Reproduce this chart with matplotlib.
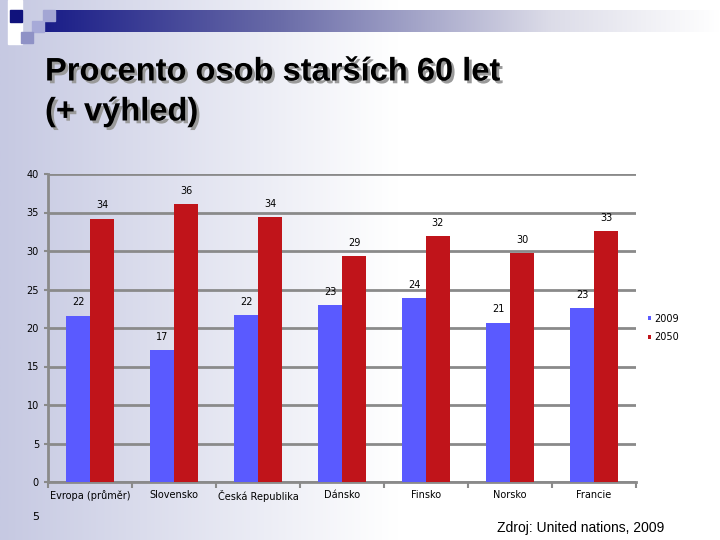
import numpy as np
import matplotlib
matplotlib.use('Agg')
import matplotlib.pyplot as plt
import matplotlib.patheffects as pe
from matplotlib.colors import LinearSegmentedColormap
from matplotlib.patches import Rectangle

# data
categories = ['Evropa (průměr)', 'Slovensko', 'Česká Republika', 'Dánsko',
              'Finsko', 'Norsko', 'Francie']
vals_2009 = [21.6, 17.1, 21.7, 23.0, 23.9, 20.7, 22.6]
vals_2050 = [34.2, 36.1, 34.4, 29.3, 31.9, 29.7, 32.6]
series_names = ['2009', '2050']
yticks = [0, 5, 10, 15, 20, 25, 30, 35, 40]

blue = '#5a5aff'
red = '#c0141a'

fig = plt.figure(figsize=(7.2, 5.4), dpi=100)

# slide background: lavender on the left fading into white
bg = fig.add_axes([0, 0, 1, 1])
bg_cmap = LinearSegmentedColormap.from_list('bg', [(0, '#c6c9e2'), (0.55, '#ffffff'), (1, '#ffffff')])
bg.imshow(np.linspace(0, 1, 256)[None, :], aspect='auto', cmap=bg_cmap,
          extent=[0, 720, 540, 0])
# header band
band_cmap = LinearSegmentedColormap.from_list('band', [(0, '#1a1d88'), (0.35, '#6a6ca8'),
                                                      (0.75, '#dcdce8'), (1, '#ffffff')])
bg.imshow(np.linspace(0, 1, 256)[None, :], aspect='auto', cmap=band_cmap,
          extent=[44, 720, 32, 10])
bg.add_patch(Rectangle((8, 0), 14, 44, color='#ffffff'))
bg.add_patch(Rectangle((10, 10), 12, 12, color='#10127c'))
bg.add_patch(Rectangle((43, 10), 12, 11, color='#a3a6d4'))
bg.add_patch(Rectangle((32, 21), 12, 11, color='#a7aad8'))
bg.add_patch(Rectangle((21, 32), 12, 11, color='#8f92c6'))
bg.set_xlim(0, 720)
bg.set_ylim(540, 0)
bg.axis('off')

# title with shadow
title_font = ['Liberation Sans Narrow', 'Liberation Sans', 'DejaVu Sans']
shadow = [pe.withSimplePatchShadow(offset=(2, -2), shadow_rgbFace='#9a9a9a', alpha=1)]
fig.text(45 / 720, 1 - 72 / 540, 'Procento osob starších 60 let', fontsize=23.5,
         fontweight='bold', family=title_font, va='center', path_effects=shadow)
fig.text(45 / 720, 1 - 112 / 540, '(+ výhled)', fontsize=23.5,
         fontweight='bold', family=title_font, va='center', path_effects=shadow)

ax = fig.add_axes([48 / 720, 1 - 482 / 540, 588 / 720, 308 / 540])
ax.patch.set_alpha(0)

x = np.arange(len(categories))
w = 0.275
b1 = ax.bar(x - w / 2 - 0.005, vals_2009, w, color=blue, label=series_names[0], zorder=3)
b2 = ax.bar(x + w / 2 + 0.005, vals_2050, w, color=red, label=series_names[1], zorder=3)
for bars in (b1, b2):
    ax.bar_label(bars, fmt='%.0f', padding=6, fontsize=7, zorder=4)

ax.set_xlim(-0.5, len(categories) - 0.5)
ax.set_ylim(0, 40)
ax.set_yticks(yticks)
ax.yaxis.grid(True, color='#8a8a8a', linewidth=2, zorder=0)
ax.tick_params(axis='y', labelsize=7, length=3, color='#8a8a8a', width=1.5)
ax.set_xticks(x)
ax.set_xticklabels(categories, fontsize=7)
ax.tick_params(axis='x', length=0, pad=6)
ax.set_xticks(np.arange(len(categories) + 1) - 0.5, minor=True)
ax.tick_params(axis='x', which='minor', length=4, color='#8a8a8a', width=1.5)
for s in ['top', 'right']:
    ax.spines[s].set_visible(False)
for s in ['left', 'bottom']:
    ax.spines[s].set_color('#8a8a8a')
    ax.spines[s].set_linewidth(2)

ax.legend(loc='center left', bbox_to_anchor=(1.0, 0.5), frameon=False, fontsize=7,
          handlelength=0.35, handleheight=0.35, handletextpad=0.3, labelspacing=0.9,
          borderaxespad=0.8)

fig.text(32 / 720, 1 - 517 / 540, '5', fontsize=8, va='center')
fig.text(497 / 720, 1 - 528 / 540, 'Zdroj: United nations, 2009', fontsize=10,
         va='center', family=title_font)

fig.savefig('out.png', dpi=100)
